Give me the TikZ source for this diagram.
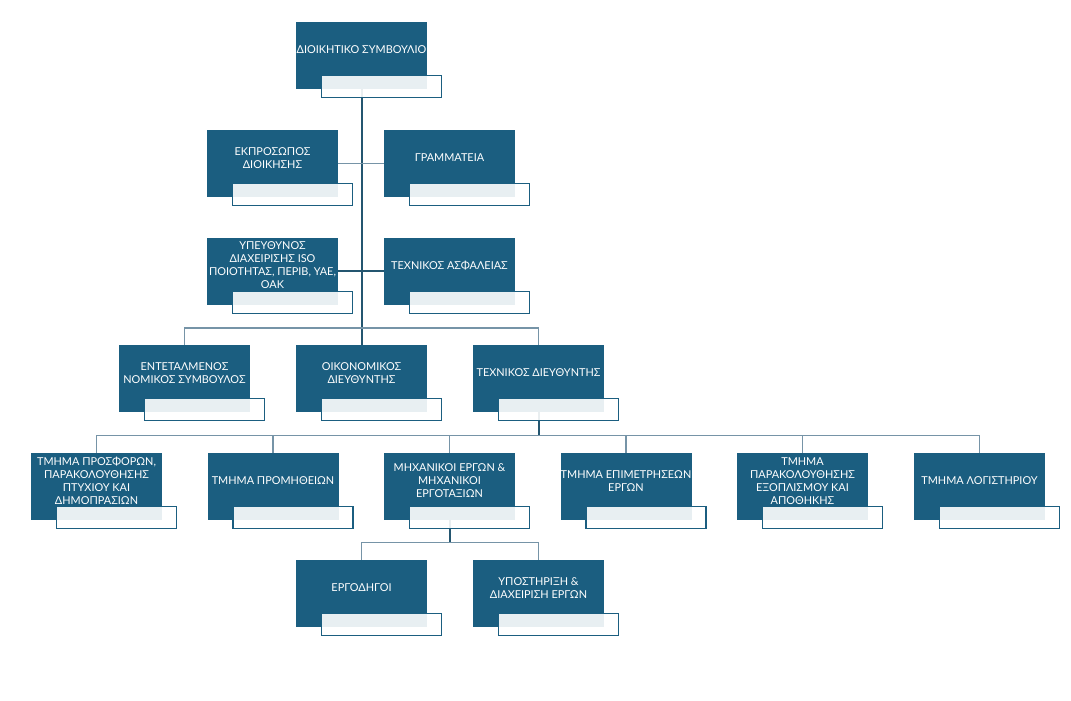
\documentclass[tikz,border=0pt]{standalone}
\usepackage{fontspec}
\setmainfont{Lato}
\usetikzlibrary{calc, backgrounds}
\definecolor{unitblue}{RGB}{27,94,128}
\definecolor{linkdark}{RGB}{36,86,112}
\definecolor{linklight}{RGB}{118,148,167}
\tikzset{unit/.style={fill=unitblue, minimum width=131pt, minimum height=67pt, inner sep=0pt},
    caption/.style={text=white, align=center, inner sep=0pt, font=\fontsize{10.9}{13}\selectfont, yshift=5.5pt},
    tag/.style={draw=unitblue, line width=1.2pt, fill=white, fill opacity=.9, minimum width=120pt, minimum height=22pt, inner sep=0pt, anchor=north west},
    trunk/.style={draw=linkdark, line width=2pt},
    link/.style={draw=linklight, line width=1.6pt}}

\begin{document}
\begin{tikzpicture}[x=1pt, y=-1pt]
                 \useasboundingbox (0,0) rectangle (1071,701);

                 \node[unit, label={[caption]center:ΔΙΟΙΚΗΤΙΚΟ ΣΥΜΒΟΥΛΙΟ}] (bd) at (361.5,55.5) {};

                 \node[unit, label={[caption]center:{ΕΚΠΡΟΣΩΠΟΣ\\ΔΙΟΙΚΗΣΗΣ}}] (rep) at (272.5,163.5) {};
                 \node[unit, label={[caption]center:ΓΡΑΜΜΑΤΕΙΑ}] (sec) at (449.5,163.5) {};

                 \node[unit, label={[caption]center:{ΥΠΕΥΘΥΝΟΣ\\ΔΙΑΧΕΙΡΙΣΗΣ ISO\\ΠΟΙΟΤΗΤΑΣ, ΠΕΡΙΒ, ΥΑΕ,\\ΟΑΚ}}] (iso) at (272.5,271) {};
                 \node[unit, label={[caption]center:ΤΕΧΝΙΚΟΣ ΑΣΦΑΛΕΙΑΣ}] (safe) at (449.5,271) {};

                 \node[unit, label={[caption]center:{ΕΝΤΕΤΑΛΜΕΝΟΣ\\ΝΟΜΙΚΟΣ ΣΥΜΒΟΥΛΟΣ}}] (legal) at (184.5,378.5) {};
                 \node[unit, label={[caption]center:{ΟΙΚΟΝΟΜΙΚΟΣ\\ΔΙΕΥΘΥΝΤΗΣ}}] (fin) at (361.5,378.5) {};
                 \node[unit, label={[caption]center:ΤΕΧΝΙΚΟΣ ΔΙΕΥΘΥΝΤΗΣ}] (tech) at (538.5,378.5) {};

                 \node[unit, label={[caption]center:{ΤΜΗΜΑ ΠΡΟΣΦΟΡΩΝ,\\ΠΑΡΑΚΟΛΟΥΘΗΣΗΣ\\ΠΤΥΧΙΟΥ ΚΑΙ\\ΔΗΜΟΠΡΑΣΙΩΝ}}] (bids) at (96.5,486.5) {};
                 \node[unit, label={[caption]center:ΤΜΗΜΑ ΠΡΟΜΗΘΕΙΩΝ}] (supply) at (273,486.5) {};
                 \node[unit, label={[caption]center:{ΜΗΧΑΝΙΚΟΙ ΕΡΓΩΝ \&\\ΜΗΧΑΝΙΚΟΙ\\ΕΡΓΟΤΑΞΙΩΝ}}] (eng) at (449.5,486.5) {};
                 \node[unit, label={[caption]center:{ΤΜΗΜΑ ΕΠΙΜΕΤΡΗΣΕΩΝ\\ΕΡΓΩΝ}}] (meas) at (626,486.5) {};
                 \node[unit, label={[caption]center:{ΤΜΗΜΑ\\ΠΑΡΑΚΟΛΟΥΘΗΣΗΣ\\ΕΞΟΠΛΙΣΜΟΥ ΚΑΙ\\ΑΠΟΘΗΚΗΣ}}] (equip) at (802.5,486.5) {};
                 \node[unit, label={[caption]center:ΤΜΗΜΑ ΛΟΓΙΣΤΗΡΙΟΥ}] (acct) at (979.5,486.5) {};

                 \node[unit, label={[caption]center:ΕΡΓΟΔΗΓΟΙ}] (fore) at (361.5,593.5) {};
                 \node[unit, label={[caption]center:{ΥΠΟΣΤΗΡΙΞΗ \&\\ΔΙΑΧΕΙΡΙΣΗ ΕΡΓΩΝ}}] (supp) at (538.5,593.5) {};

                 % light name strips over the lower right corner
                 \foreach \n in {bd,rep,sec,iso,safe,legal,fin,tech,bids,supply,eng,meas,equip,acct,fore,supp}
                     \node[tag] (\n-tag) at ($(\n.south west)+(25,-14)$) {};

                 \begin{scope}[on background layer]
                 \draw[trunk](bd.south)--(fin.north);
                 \draw[link](rep.east)--(sec.west);
                 \draw[trunk](iso.east)--(safe.west);
                 \draw[link](legal.north)--++(0,-17)-|(tech.north);

                 \draw[trunk](tech.south)--++(0,23.5);
                 \draw[link](bids.north)--++(0,-17.5)-|(acct.north);
                 \foreach \n in {supply,eng,meas,equip}
                     \draw[link](\n.north)--++(0,-17.5);

                 \draw[trunk](eng.south)--++(0,22.5);
                 \draw[link](fore.north)--++(0,-17.5)-|(supp.north);
                 \end{scope}
             \end{tikzpicture}
\end{document}
